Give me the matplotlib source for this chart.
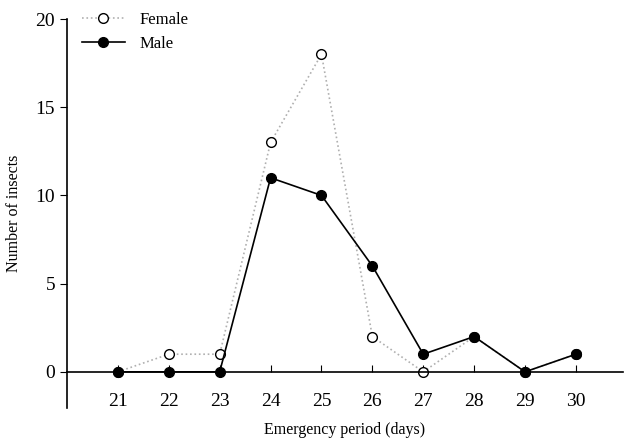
import matplotlib.pyplot as plt

days = [21, 22, 23, 24, 25, 26, 27, 28, 29, 30]
female = [0, 1, 1, 13, 18, 2, 0, 2, 0, 1]
male = [0, 0, 0, 11, 10, 6, 1, 2, 0, 1]

plt.rcParams['font.family'] = ['Liberation Serif', 'DejaVu Serif']

fig = plt.figure(figsize=(6.24, 4.42), dpi=100)
ax = fig.add_axes([0.1074, 0.0769, 0.8906, 0.8801])

ax.plot(days, female, linestyle=':', color='#b0b0b0', lw=1.2,
        marker='o', markersize=7, markerfacecolor='white',
        markeredgecolor='black', markeredgewidth=1.0, label='Female', zorder=2)
ax.plot(days, male, linestyle='-', color='black', lw=1.2,
        marker='o', markersize=7, markerfacecolor='black',
        markeredgecolor='black', label='Male', zorder=3)

ax.set_xlim(20, 30.92)
ax.set_ylim(-2.05, 20)
ax.set_xticks(days)
ax.set_yticks([0, 5, 10, 15, 20])

ax.spines['top'].set_visible(False)
ax.spines['right'].set_visible(False)
ax.spines['bottom'].set_position(('data', 0))
ax.spines['left'].set_bounds(-2.05, 20)
for s in ['left', 'bottom']:
    ax.spines[s].set_linewidth(1.2)

ax.tick_params(axis='x', direction='in', length=5, pad=15, labelsize=14)
ax.tick_params(axis='y', direction='out', length=5, labelsize=14)

ax.set_xlabel('Emergency period (days)', fontsize=11.5, labelpad=9)
ax.set_ylabel('Number of insects', fontsize=11.5, labelpad=10)

ax.legend(loc='upper left', bbox_to_anchor=(0.112, 1.0), bbox_transform=fig.transFigure,
          frameon=False, fontsize=12, handlelength=2.6, handletextpad=0.9,
          borderaxespad=0.3, labelspacing=0.5)

fig.savefig('out.png', dpi=100)
